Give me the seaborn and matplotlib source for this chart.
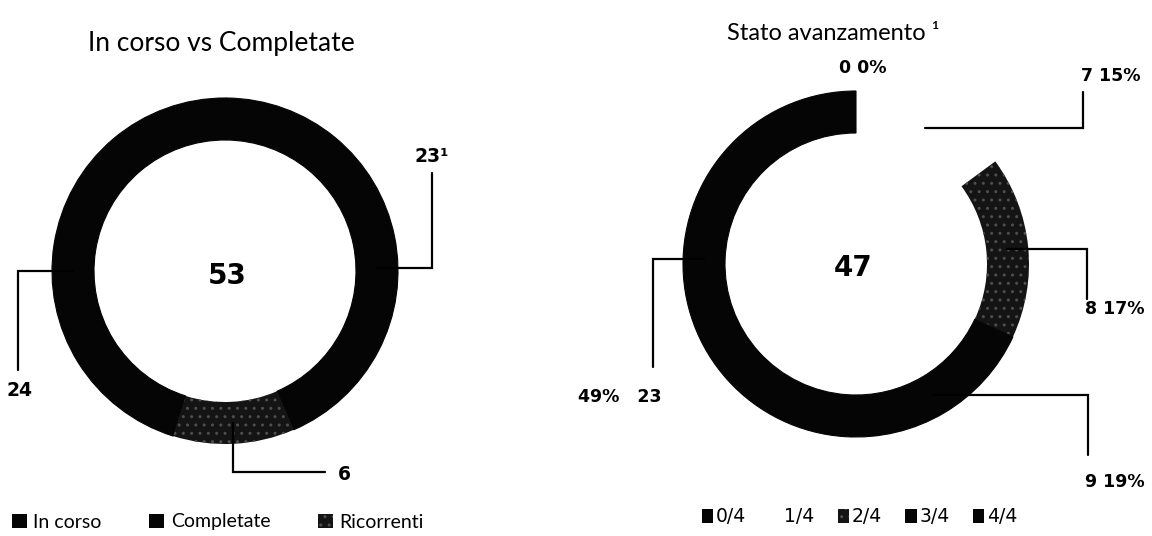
import numpy as np
import matplotlib.pyplot as plt
import seaborn as sns
from matplotlib.patches import Patch

sns.set_theme(style="white")
plt.rcParams['font.family'] = ['Lato', 'DejaVu Sans']
plt.rcParams['text.color'] = 'black'
plt.rcParams['hatch.linewidth'] = 1.0

# dati
tipo_labels = ['In corso', 'Completate', 'Ricorrenti']
tipo_values = [24, 23, 6]
tipo_text = ['24', '23¹', '6']

stato_labels = ['0/4', '1/4', '2/4', '3/4', '4/4']
stato_values = [0, 7, 8, 9, 23]
stato_pct = [0, 15, 17, 19, 49]

# layout (pixel, y dall'alto)
W, H = 1152, 536
R_OUT, R_IN = 173, 131
LEFT_C = (225, 271)
RIGHT_C = (856, 264)
BLACK = '#050505'
SPECKLE = '#141414'
SPECKLE_DOT = '#4e4e4e'
NARROW = ['Liberation Sans Narrow', 'DejaVu Sans Condensed', 'DejaVu Sans']
BOLD = ['DejaVu Sans']

tipo_colors = [BLACK, BLACK, SPECKLE]
stato_colors = [BLACK, 'white', SPECKLE, BLACK, BLACK]


def py(y):
    return H - y


fig = plt.figure(figsize=(W / 100, H / 100), dpi=100)
ax = fig.add_axes([0, 0, 1, 1])


def donut(values, colors, center, start):
    wedges, _ = ax.pie(values, colors=colors, radius=R_OUT,
                       center=(center[0], py(center[1])),
                       startangle=start, counterclock=False, frame=True,
                       wedgeprops=dict(width=R_OUT - R_IN, linewidth=0.8))
    for w, c in zip(wedges, colors):
        if c == SPECKLE:
            w.set_hatch('..')
            w.set_edgecolor(SPECKLE_DOT)
            w.set_linewidth(0)
        else:
            w.set_edgecolor(c)
    return wedges


def leader(wedge, center, first, elbow, end, angle=None):
    if angle is None:
        angle = (wedge.theta1 + wedge.theta2) / 2
    r = (R_OUT + R_IN) / 2
    cx, cy = center[0], py(center[1])
    x0 = cx + r * np.cos(np.radians(angle))
    y0 = cy + r * np.sin(np.radians(angle))
    if first == 'h':
        xs, ys = [x0, elbow, elbow], [y0, y0, py(end)]
    else:
        xs, ys = [x0, x0, end], [y0, py(elbow), py(elbow)]
    ax.plot(xs, ys, color='black', lw=1.6, solid_joinstyle='miter')


# --- In corso vs Completate
wl = donut(tipo_values, tipo_colors, LEFT_C, 252.6)
leader(wl[0], LEFT_C, 'h', 18, 370, angle=180)
leader(wl[1], LEFT_C, 'h', 432, 173, angle=1)
leader(wl[2], LEFT_C, 'v', 472, 325)
lab = dict(fontsize=13.5, fontweight='bold', va='center', color='black', family=BOLD)
ax.text(20, py(390), tipo_text[0], ha='center', **lab)
ax.text(432, py(156), tipo_text[1], ha='center', **lab)
ax.text(338, py(474), tipo_text[2], ha='left', **lab)
ax.text(LEFT_C[0] + 2, py(276), str(sum(tipo_values)), ha='center', va='center',
        fontsize=20, fontweight='bold', family=BOLD)
ax.text(221, py(43), 'In corso vs Completate', ha='center', va='center', fontsize=19)

# --- Stato avanzamento
wr = donut(stato_values, stato_colors, RIGHT_C, 90)
leader(wr[1], RIGHT_C, 'h', 1083, 92)
leader(wr[2], RIGHT_C, 'h', 1087, 299)
leader(wr[3], RIGHT_C, 'h', 1088, 455)
leader(wr[4], RIGHT_C, 'h', 653, 367)
lab_r = dict(fontsize=12.5, fontweight='bold', va='center', family=NARROW)
ax.text(863, py(68), f'{stato_values[0]} {stato_pct[0]}%', ha='center', **lab_r)
ax.text(1111, py(76), f'{stato_values[1]} {stato_pct[1]}%', ha='center', **lab_r)
ax.text(1115, py(309), f'{stato_values[2]} {stato_pct[2]}%', ha='center', **lab_r)
ax.text(1115, py(482), f'{stato_values[3]} {stato_pct[3]}%', ha='center', **lab_r)
ax.text(662, py(397), f'{stato_pct[4]}%   {stato_values[4]}', ha='right', **lab_r)
ax.text(RIGHT_C[0] - 3, py(268), str(sum(stato_values)), ha='center', va='center',
        fontsize=20, fontweight='bold', family=BOLD)
ax.text(833, py(33), 'Stato avanzamento ¹', ha='center', va='center', fontsize=17)

ax.set_xlim(0, W)
ax.set_ylim(0, H)
ax.set_aspect('auto')
ax.axis('off')


# --- legende
def handles(colors):
    out = []
    for c in colors:
        if c == SPECKLE:
            out.append(Patch(facecolor=c, edgecolor=SPECKLE_DOT, hatch='..', linewidth=0))
        else:
            out.append(Patch(facecolor=c, edgecolor=c, linewidth=0))
    return out


fig.legend(handles(tipo_colors), tipo_labels, loc='center left',
           bbox_to_anchor=(12 / W, py(522) / H), ncol=3, frameon=False,
           fontsize=14, handlelength=0.75, handleheight=0.75, handletextpad=0.35,
           columnspacing=2.45, borderpad=0, borderaxespad=0)
fig.legend(handles(stato_colors), stato_labels, loc='center left',
           bbox_to_anchor=(702 / W, py(517) / H), ncol=5, frameon=False,
           prop=dict(family=NARROW, size=13.5), handlelength=0.6, handleheight=0.7,
           handletextpad=0.15, columnspacing=1.25, borderpad=0, borderaxespad=0)

fig.savefig('out.png', dpi=100, facecolor='white')
